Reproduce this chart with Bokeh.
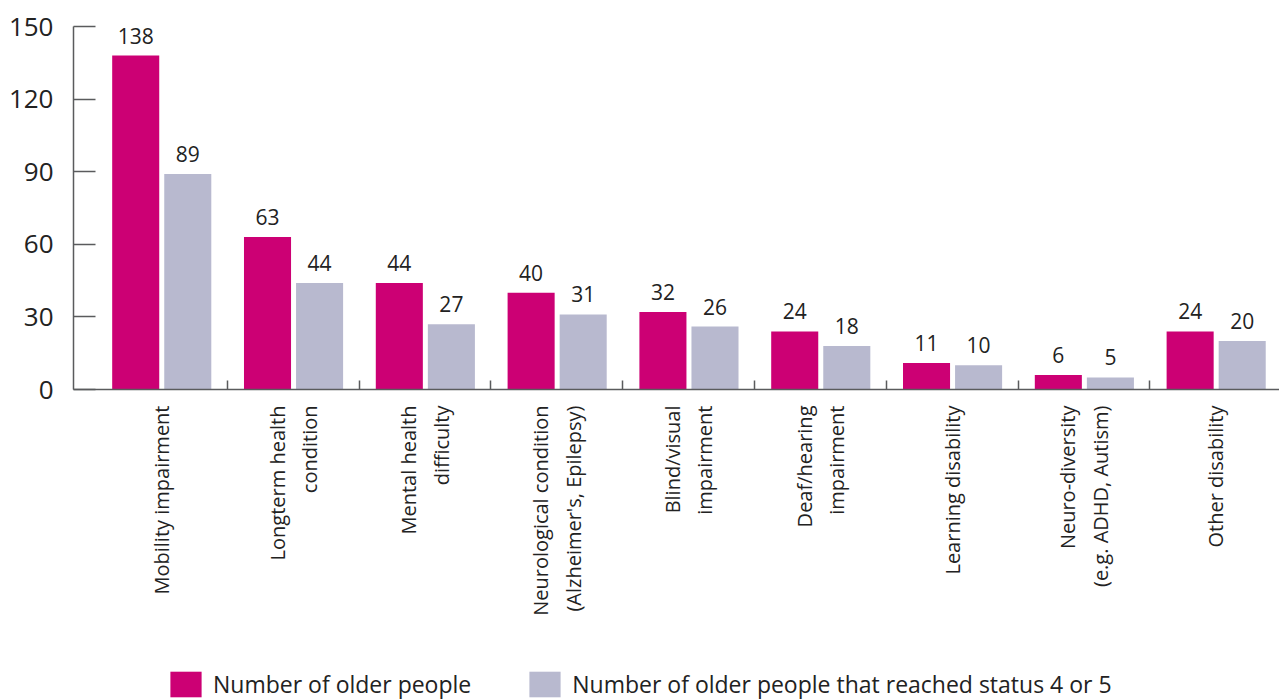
import math
from bokeh.plotting import figure
from bokeh.layouts import column
from bokeh.models import Range1d, FixedTicker, Legend, LegendItem, ColumnDataSource
from bokeh.transform import dodge
from bokeh.core.properties import value
from bokeh.embed import file_html
from bokeh.resources import INLINE

categories = [
    "Mobility impairment",
    "Longterm health\ncondition",
    "Mental health\ndifficulty",
    "Neurological condition\n(Alzheimer's, Epilepsy)",
    "Blind/visual\nimpairment",
    "Deaf/hearing\nimpairment",
    "Learning disability",
    "Neuro-diversity\n(e.g. ADHD, Autism)",
    "Other disability",
]
older_people = [138, 63, 44, 40, 32, 24, 11, 6, 24]
reached_status = [89, 44, 27, 31, 26, 18, 10, 5, 20]
y_ticks = [0, 30, 60, 90, 120, 150]
series_names = ["Number of older people", "Number of older people that reached status 4 or 5"]

MAGENTA = "#CC0074"
GREY = "#B8B9CF"
AXIS = "#5a5b5d"
TEXT = "#222222"
FONT = "Open Sans"

idx = list(range(len(categories)))
src = ColumnDataSource(dict(
    x=idx,
    a=older_people,
    b=reached_status,
    a_txt=[str(v) for v in older_people],
    b_txt=[str(v) for v in reached_status],
))

p = figure(
    width=1279, height=660,
    x_range=Range1d(-0.667, len(categories) - 0.517),
    y_range=Range1d(0, 150),
    output_backend="svg", toolbar_location=None,
    min_border_left=73, min_border_right=0, min_border_top=26, min_border_bottom=271,
)
p.outline_line_color = None
p.xgrid.visible = False
p.ygrid.visible = False
p.background_fill_color = "white"
p.border_fill_color = "white"

w = 0.357
r1 = p.vbar(x=dodge("x", -0.195), top="a", width=w, source=src, fill_color=MAGENTA, line_color=None)
r2 = p.vbar(x=dodge("x", 0.2), top="b", width=w, source=src, fill_color=GREY, line_color=None)

p.text(x=dodge("x", -0.195), y="a", text="a_txt", source=src, text_align="center",
       text_baseline="bottom", y_offset=-12, text_font=value(FONT), text_font_size="21px",
       text_color=TEXT)
p.text(x=dodge("x", 0.2), y="b", text="b_txt", source=src, text_align="center",
       text_baseline="bottom", y_offset=-12, text_font=value(FONT), text_font_size="21px",
       text_color=TEXT)

# y axis
yax = p.yaxis[0]
yax.ticker = FixedTicker(ticks=y_ticks)
yax.minor_tick_line_color = None
yax.major_tick_in = 22
yax.major_tick_out = 0
yax.major_tick_line_color = AXIS
yax.major_tick_line_width = 1.5
yax.axis_line_color = AXIS
yax.axis_line_width = 1.5
yax.major_label_text_font = FONT
yax.major_label_text_font_size = "26px"
yax.major_label_text_color = TEXT
yax.major_label_standoff = 20

# x axis
xax = p.xaxis[0]
xax.ticker = FixedTicker(ticks=idx, minor_ticks=[i + 0.5 for i in idx[:-1]])
xax.major_label_overrides = {i: c for i, c in zip(idx, categories)}
xax.major_tick_in = 0
xax.major_tick_out = 0
xax.major_tick_line_color = None
xax.minor_tick_in = 9
xax.minor_tick_out = 0
xax.minor_tick_line_color = AXIS
xax.minor_tick_line_width = 1.5
xax.axis_line_color = AXIS
xax.axis_line_width = 1.5
xax.major_label_orientation = math.pi / 2
xax.major_label_text_font = FONT
xax.major_label_text_font_size = "20px"
xax.major_label_text_color = TEXT
xax.major_label_standoff = 16

# legend strip (series drawn out of view; only the legend shows)
lg = figure(
    width=1279, height=40, x_range=Range1d(-0.667, len(categories) - 0.517),
    y_range=Range1d(1000, 1001),
    output_backend="svg", toolbar_location=None,
    x_axis_location=None, y_axis_location=None,
    min_border_left=0, min_border_right=0, min_border_top=0, min_border_bottom=0,
)
lg.outline_line_color = None
lg.xgrid.visible = False
lg.ygrid.visible = False
e1 = lg.vbar(x=dodge("x", -0.195), top="a", width=w, source=src, fill_color=MAGENTA, line_color=None)
e2 = lg.vbar(x=dodge("x", 0.2), top="b", width=w, source=src, fill_color=GREY, line_color=None)
legend = Legend(
    items=[LegendItem(label=series_names[0], renderers=[e1]),
           LegendItem(label=series_names[1], renderers=[e2])],
    location=(93, 0), orientation="horizontal",
    glyph_width=39, glyph_height=32, label_standoff=8, spacing=54,
    padding=0, margin=0, border_line_color=None, background_fill_alpha=0,
    label_text_font=FONT, label_text_font_size="23px", label_text_color=TEXT,
    label_height=32,
)
lg.add_layout(legend, "center")

layout = column(p, lg, spacing=0)
open("out.html", "w").write(file_html(layout, INLINE))
